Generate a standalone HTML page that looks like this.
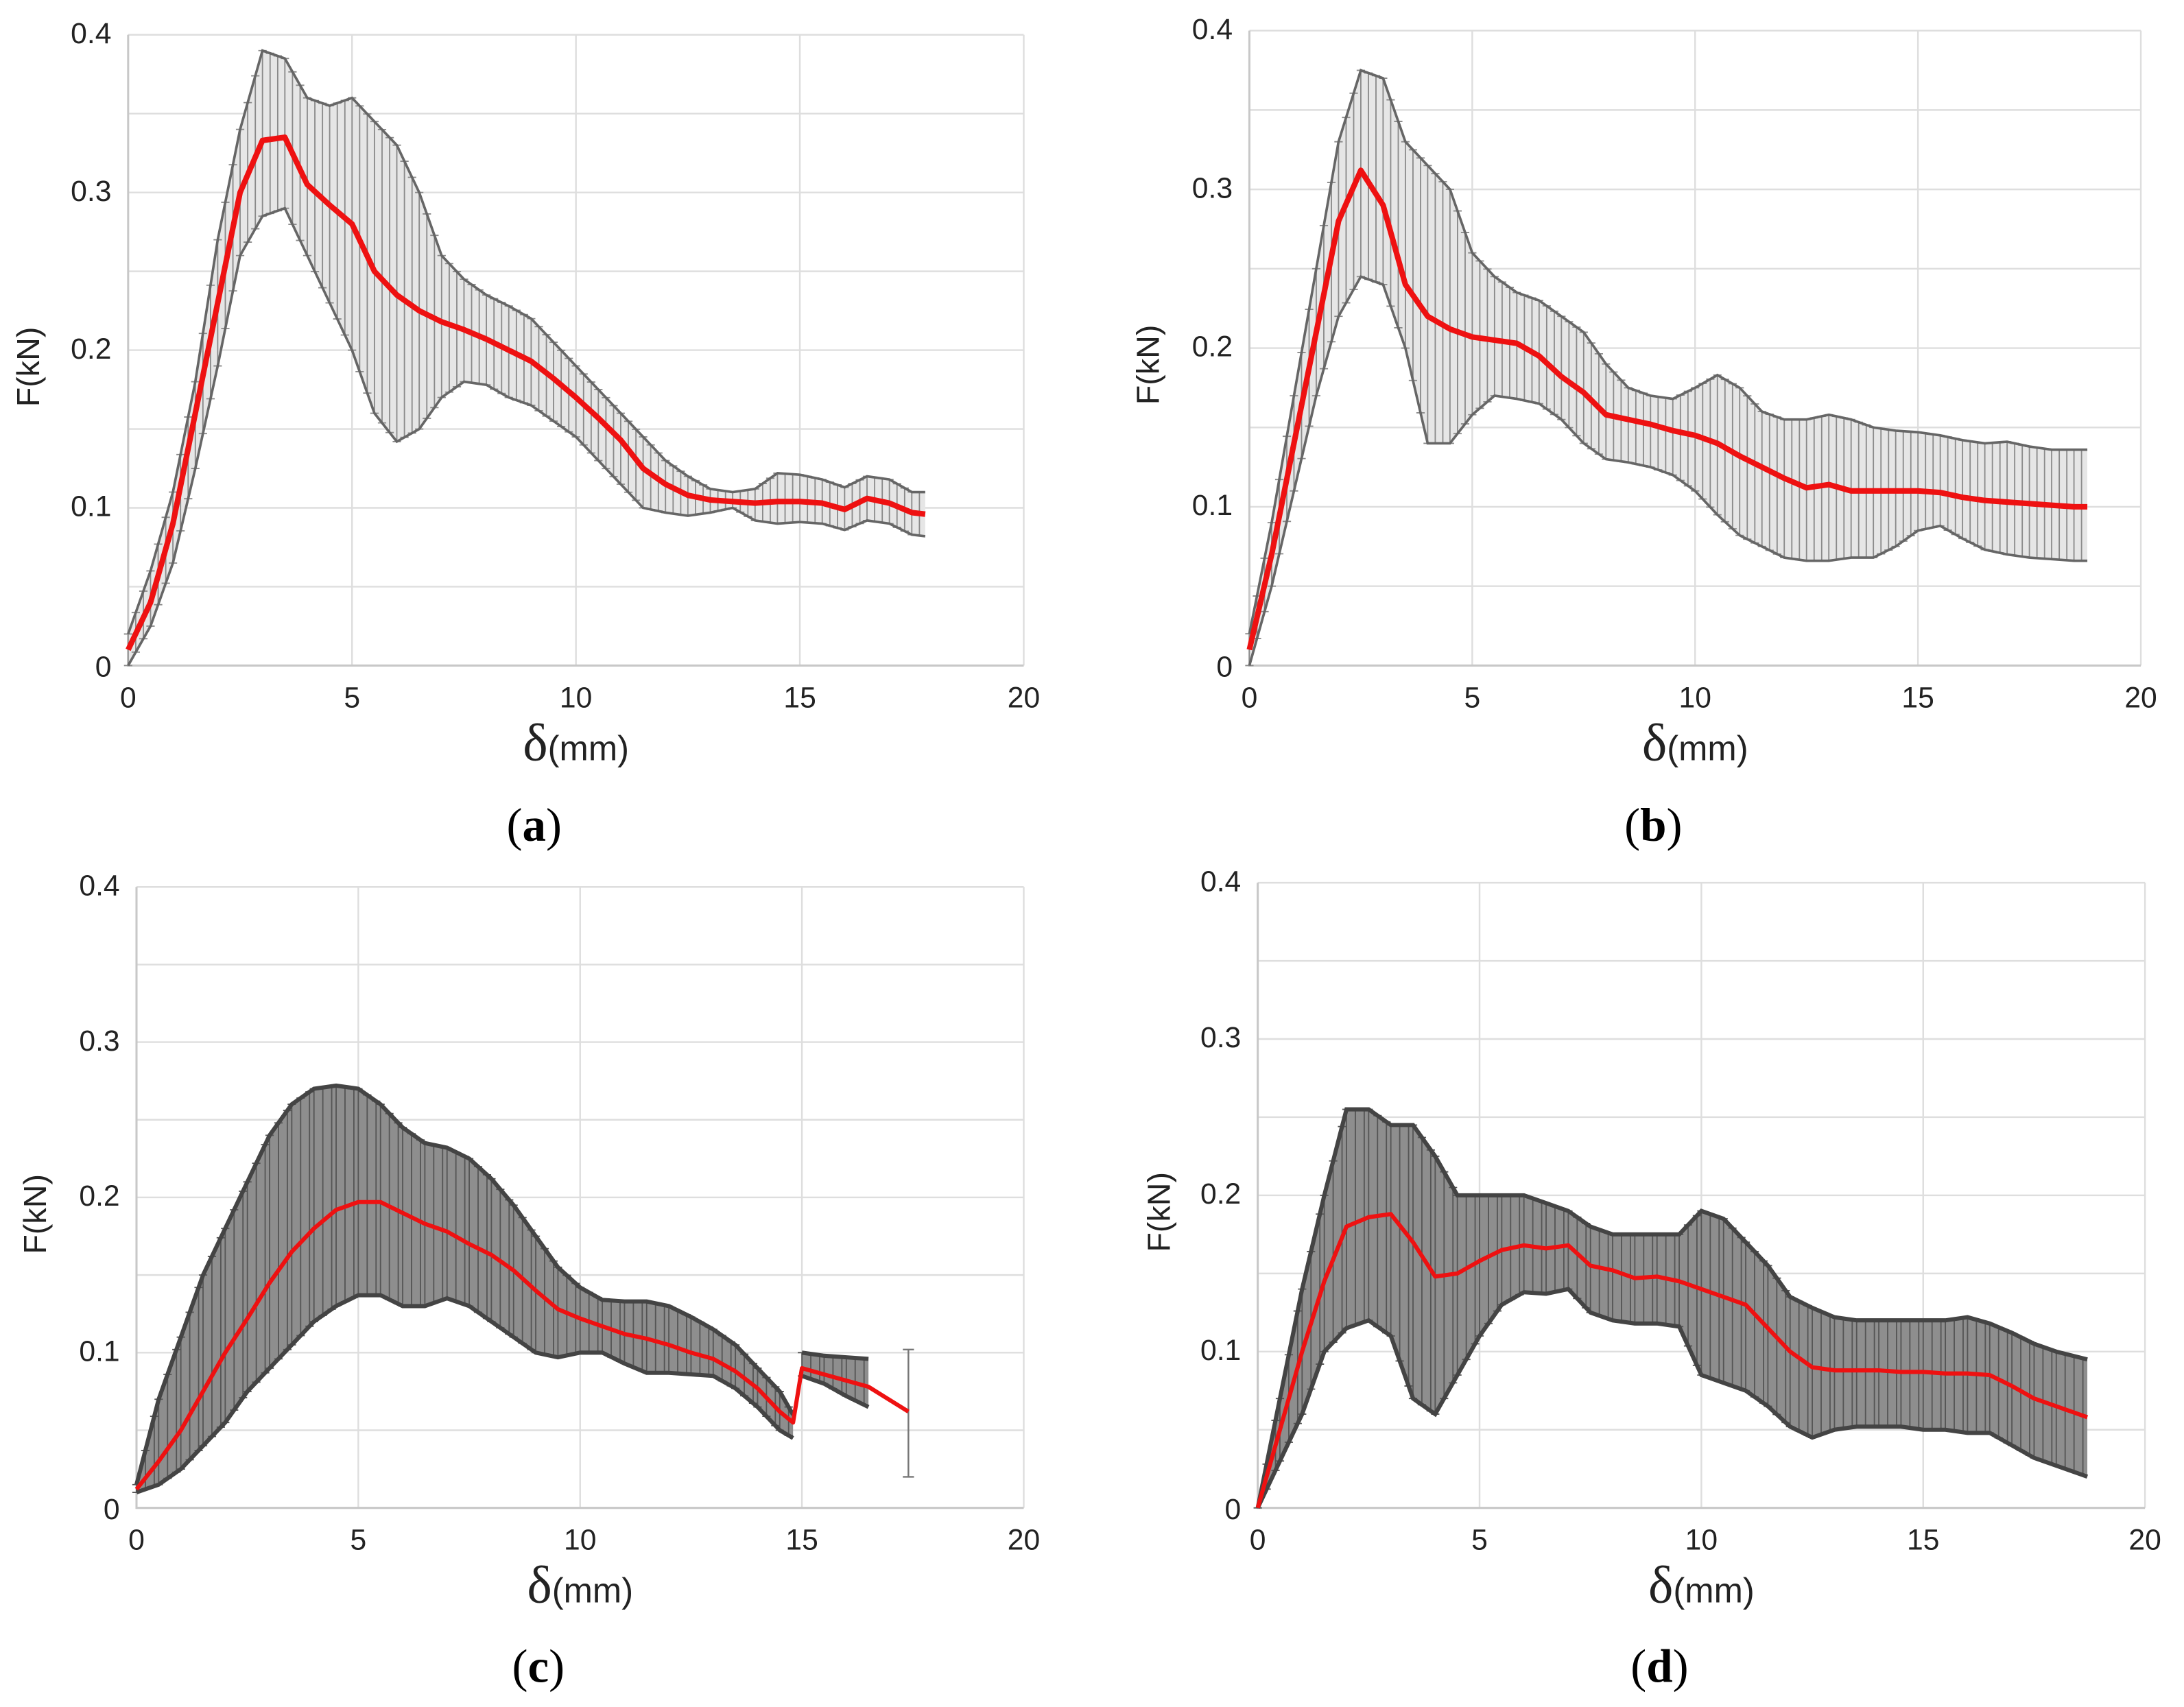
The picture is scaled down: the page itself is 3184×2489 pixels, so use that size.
<!DOCTYPE html>
<html><head><meta charset="utf-8"><style>
html,body{margin:0;padding:0;background:#fff}
svg{display:block}
</style></head><body>
<svg id="fig" width="3184" height="2489" viewBox="0 0 1568 1226" preserveAspectRatio="none" xmlns="http://www.w3.org/2000/svg"></svg>
<script>
// ---- data: panel (a)
const xA=[0,0.5,1,1.5,2,2.5,3,3.5,4,4.5,5,5.5,6,6.5,7,7.5,8,8.5,9,9.5,10,10.5,11,11.5,12,12.5,13,13.5,14,14.5,15,15.5,16,16.5,17,17.5,17.8];
const meanA=[0.01,0.04,0.09,0.16,0.23,0.30,0.333,0.335,0.305,0.292,0.28,0.25,0.235,0.225,0.218,0.213,0.207,0.2,0.193,0.182,0.17,0.157,0.143,0.125,0.115,0.108,0.105,0.104,0.103,0.104,0.104,0.103,0.099,0.106,0.103,0.097,0.096];
const hiA=[0.02,0.06,0.11,0.18,0.27,0.34,0.39,0.385,0.36,0.355,0.36,0.345,0.33,0.30,0.26,0.245,0.235,0.228,0.22,0.205,0.19,0.175,0.16,0.145,0.13,0.12,0.112,0.11,0.112,0.122,0.121,0.118,0.113,0.12,0.118,0.11,0.11];
const loA=[0.0,0.025,0.065,0.125,0.19,0.26,0.285,0.29,0.26,0.23,0.2,0.16,0.142,0.15,0.17,0.18,0.178,0.17,0.165,0.155,0.145,0.13,0.115,0.1,0.097,0.095,0.097,0.1,0.092,0.09,0.091,0.09,0.086,0.092,0.09,0.083,0.082];
// ---- data: panel (b)
const xB=[0,0.5,1,1.5,2,2.5,3,3.5,4,4.5,5,5.5,6,6.5,7,7.5,8,8.5,9,9.5,10,10.5,11,11.5,12,12.5,13,13.5,14,14.5,15,15.5,16,16.5,17,17.5,18,18.5,18.8];
const meanB=[0.01,0.07,0.14,0.21,0.28,0.312,0.29,0.24,0.22,0.212,0.207,0.205,0.203,0.195,0.182,0.172,0.158,0.155,0.152,0.148,0.145,0.14,0.132,0.125,0.118,0.112,0.114,0.11,0.11,0.11,0.11,0.109,0.106,0.104,0.103,0.102,0.101,0.1,0.1];
const hiB=[0.02,0.09,0.17,0.25,0.33,0.375,0.37,0.33,0.315,0.30,0.26,0.245,0.235,0.23,0.22,0.21,0.19,0.175,0.17,0.168,0.175,0.183,0.175,0.16,0.155,0.155,0.158,0.155,0.15,0.148,0.147,0.145,0.142,0.14,0.141,0.138,0.136,0.136,0.136];
const loB=[0.0,0.05,0.11,0.17,0.22,0.245,0.24,0.2,0.14,0.14,0.158,0.17,0.168,0.165,0.155,0.14,0.13,0.128,0.125,0.12,0.11,0.095,0.082,0.075,0.068,0.066,0.066,0.068,0.068,0.075,0.085,0.088,0.08,0.073,0.07,0.068,0.067,0.066,0.066];
// ---- data: panel (c)
const xC=[0,0.5,1,1.5,2,2.5,3,3.5,4,4.5,5,5.5,6,6.5,7,7.5,8,8.5,9,9.5,10,10.5,11,11.5,12,12.5,13,13.5,14,14.5,14.8,15,15.5,16,16.5,17.4];
const meanC=[0.012,0.03,0.05,0.075,0.1,0.122,0.145,0.165,0.18,0.192,0.197,0.197,0.19,0.183,0.178,0.17,0.163,0.153,0.14,0.128,0.122,0.117,0.112,0.109,0.105,0.1,0.096,0.088,0.077,0.062,0.055,0.09,0.086,0.082,0.078,0.062];
const hiC=[0.015,0.07,0.11,0.15,0.18,0.21,0.24,0.26,0.27,0.272,0.27,0.26,0.245,0.235,0.232,0.225,0.212,0.195,0.175,0.155,0.142,0.134,0.133,0.133,0.13,0.123,0.115,0.105,0.09,0.075,0.06,0.1,0.098,0.097,0.096,0.102];
const loC=[0.01,0.015,0.025,0.04,0.055,0.075,0.09,0.105,0.12,0.13,0.137,0.137,0.13,0.13,0.135,0.13,0.12,0.11,0.1,0.097,0.1,0.1,0.093,0.087,0.087,0.086,0.085,0.077,0.065,0.05,0.045,0.085,0.08,0.072,0.065,0.02];
const segC=[[0,30],[31,34],[35,35]];
// ---- data: panel (d)
const xD=[0,0.5,1,1.5,2,2.5,3,3.5,4,4.5,5,5.5,6,6.5,7,7.5,8,8.5,9,9.5,10,10.5,11,11.5,12,12.5,13,13.5,14,14.5,15,15.5,16,16.5,17,17.5,18,18.7];
const meanD=[0,0.05,0.1,0.145,0.18,0.186,0.188,0.17,0.148,0.15,0.158,0.165,0.168,0.166,0.168,0.155,0.152,0.147,0.148,0.145,0.14,0.135,0.13,0.115,0.1,0.09,0.088,0.088,0.088,0.087,0.087,0.086,0.086,0.085,0.078,0.07,0.065,0.058];
const hiD=[0,0.07,0.14,0.2,0.255,0.255,0.245,0.245,0.225,0.2,0.2,0.2,0.2,0.195,0.19,0.18,0.175,0.175,0.175,0.175,0.19,0.185,0.17,0.155,0.135,0.128,0.122,0.12,0.12,0.12,0.12,0.12,0.122,0.118,0.112,0.105,0.1,0.095];
const loD=[0,0.03,0.06,0.1,0.115,0.12,0.11,0.07,0.06,0.085,0.11,0.13,0.138,0.137,0.14,0.125,0.12,0.118,0.118,0.116,0.085,0.08,0.075,0.065,0.052,0.045,0.05,0.052,0.052,0.052,0.05,0.05,0.048,0.048,0.04,0.032,0.027,0.02];
const xTicks=[0,5,10,15,20];
const yTicks=[0,0.1,0.2,0.3,0.4];
const yTickLabels=["0","0.1","0.2","0.3","0.4"];

const NS="http://www.w3.org/2000/svg";
const svg=document.getElementById('fig');
function mk(tag,attrs,parent){const e=document.createElementNS(NS,tag);for(const k in attrs)e.setAttribute(k,attrs[k]);(parent||svg).appendChild(e);return e;}

function panel(cfg){
  const g=mk('g',{});
  
  
  const X=v=>cfg.x0+(cfg.x20-cfg.x0)*v/20;
  const Y=v=>cfg.y0-(cfg.y0-cfg.y4)*v/0.4;
  for(let k=1;k<=8;k++){const l=mk('line',{x1:X(0),x2:X(20),y1:Y(k*0.05),y2:Y(k*0.05),stroke:'#dedede','stroke-width':1.2},g);
    }
  xTicks.forEach(t=>{if(t===0)return;const l=mk('line',{x1:X(t),x2:X(t),y1:Y(0),y2:Y(0.4),stroke:'#dedede','stroke-width':1.2},g);
    });
  const ax=mk('path',{d:`M${X(0)},${Y(0.4)}V${Y(0)}H${X(20)}`,fill:'none',stroke:'#c8c8c8','stroke-width':1.5},g);
  
  xTicks.forEach(t=>{const tx=mk('text',{x:X(t),y:Y(0)+30,'font-size':21,'text-anchor':'middle','font-family':'Liberation Sans, sans-serif',fill:'#222'},g);
    tx.textContent=t;});
  yTicks.forEach((t,i)=>{const tx=mk('text',{x:X(0)-12,y:Y(t)+(i===0?8:6),'font-size':21,'text-anchor':'end','font-family':'Liberation Sans, sans-serif',fill:'#222'},g);
    tx.textContent=yTickLabels[i];});
  const yt=mk('text',{x:0,y:0,'font-size':23,'text-anchor':'middle','font-family':'Liberation Sans, sans-serif',fill:'#222',transform:`translate(${cfg.ytx},${(Y(0)+Y(0.4))/2+12}) rotate(-90)`},g);
  yt.textContent='F(kN)';
  const xt=mk('text',{x:X(10),y:Y(0)+68,'text-anchor':'middle','font-family':'Liberation Serif, serif',fill:'#222'},g);
  
  const d1=mk('tspan',{'font-size':38},xt);d1.textContent='δ';
  const d2=mk('tspan',{'font-size':25,'font-family':'Liberation Sans, sans-serif'},xt);d2.textContent='(mm)';
  const cap=mk('text',{x:X(10)-30,y:cfg.capY,'font-size':34,'text-anchor':'middle','font-family':'Liberation Serif, serif',fill:'#000'},g);
  
  const c1=mk('tspan',{},cap);c1.textContent='(';
  const c2=mk('tspan',{'font-weight':'bold'},cap);c2.textContent=cfg.id;
  const c3=mk('tspan',{},cap);c3.textContent=')';
  const segs=cfg.segs||[[0,cfg.xs.length-1]];
  segs.forEach(([a,b])=>{
    if(a<b){
      let up='',dn='';
      for(let i=a;i<=b;i++){up+=(i===a?'M':'L')+X(cfg.xs[i])+','+Y(cfg.hi[i]);}
      for(let i=b;i>=a;i--){dn+='L'+X(cfg.xs[i])+','+Y(cfg.lo[i]);}
      const band=mk('path',{d:up+dn+'Z',fill:cfg.dark?'#8e8e8e':'#e6e6e6',stroke:'none'},g);
      
      const step=cfg.dark?0.2:0.17;
      for(let i=a;i<b;i++){
        const xa=cfg.xs[i],xb=cfg.xs[i+1];
        for(let v=xa;v<xb-1e-6;v+=step){
          const f=(v-xa)/(xb-xa);
          const h=cfg.hi[i]+(cfg.hi[i+1]-cfg.hi[i])*f,lo=cfg.lo[i]+(cfg.lo[i+1]-cfg.lo[i])*f;
          const bar=mk('path',{d:`M${X(v)},${Y(h)}V${Y(lo)}M${X(v)-3},${Y(h)}h6M${X(v)-3},${Y(lo)}h6`,stroke:cfg.dark?'#555':'#8a8a8a','stroke-width':cfg.dark?0.9:0.9,fill:'none'},g);
          
        }
      }
      let e1='',e2='';
      for(let i=a;i<=b;i++){e1+=(i===a?'M':'L')+X(cfg.xs[i])+','+Y(cfg.hi[i]);e2+=(i===a?'M':'L')+X(cfg.xs[i])+','+Y(cfg.lo[i]);}
      const ed=mk('path',{d:e1+e2,fill:'none',stroke:cfg.dark?'#444':'#666','stroke-width':cfg.dark?3:1.8},g);
      
    } else {
      const v=cfg.xs[a];
      const bar=mk('path',{d:`M${X(v)},${Y(cfg.hi[a])}V${Y(cfg.lo[a])}M${X(v)-4},${Y(cfg.hi[a])}h8M${X(v)-4},${Y(cfg.lo[a])}h8`,stroke:'#777','stroke-width':1.2,fill:'none'},g);
      
    }
  });
  let d='';cfg.xs.forEach((v,i)=>{d+=(i?'L':'M')+X(v)+','+Y(cfg.mean[i]);});
  const ml=mk('path',{d,fill:'none',stroke:'#ee1111','stroke-width':cfg.dark?3:4,'stroke-linejoin':'round'},g);
  
}
panel({id:'a',x0:92,x20:735,y0:478,y4:25,ytx:28,capY:604,xs:xA,mean:meanA,hi:hiA,lo:loA});
panel({id:'b',x0:897,x20:1537,y0:478,y4:22,ytx:832,capY:604,xs:xB,mean:meanB,hi:hiB,lo:loB});
panel({id:'c',x0:98,x20:735,y0:1083,y4:637,ytx:33,capY:1208,xs:xC,mean:meanC,hi:hiC,lo:loC,segs:segC,dark:true});
panel({id:'d',x0:903,x20:1540,y0:1083,y4:634,ytx:840,capY:1208,xs:xD,mean:meanD,hi:hiD,lo:loD,dark:true});
</script>
</body></html>
